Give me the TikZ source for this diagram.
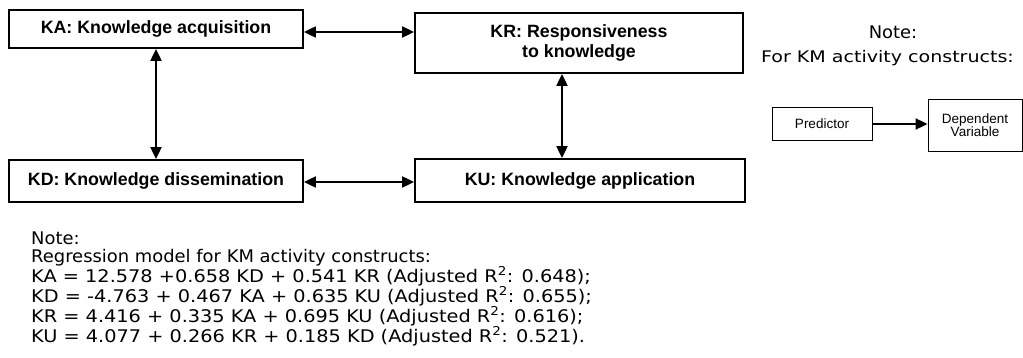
\documentclass[tikz,border=0pt]{standalone}
\usepackage{fontspec}
\setmainfont{Liberation Sans}
\newfontfamily\verd[FakeStretch=1.03]{DejaVu Sans}
\newfontfamily\verdw[FakeStretch=1.11]{DejaVu Sans}
\newfontfamily\verdn[FakeStretch=1.19]{DejaVu Sans}
\usetikzlibrary{arrows.meta}
\begin{document}
\begin{tikzpicture}[x=1pt,y=-1pt,
  bigbox/.style={draw,line width=1.8pt,inner sep=0pt,align=center,font=\fontsize{17.8}{20}\selectfont\bfseries},
  smallbox/.style={draw,line width=0.9pt,inner sep=0pt,align=center,font=\fontsize{13.5}{13}\selectfont},
  biarrow/.style={line width=2pt,{Triangle[length=12pt,width=11pt]}-{Triangle[length=12pt,width=11pt]}},
  onearrow/.style={line width=2pt,-{Triangle[length=12pt,width=11pt]}},
  notetext/.style={font=\verd\fontsize{17.4}{17.4}\selectfont,inner sep=0pt}]
\useasboundingbox (0,0) rectangle (1023,358);
\node[bigbox,minimum width=294pt,minimum height=38pt] (KA) at (156,29) {KA: Knowledge acquisition};
\node[bigbox,minimum width=328pt,minimum height=60pt] (KR) at (579,43) {KR: Responsiveness\\to knowledge};
\node[bigbox,minimum width=294pt,minimum height=42pt] (KD) at (156,181) {KD: Knowledge dissemination};
\node[bigbox,minimum width=330pt,minimum height=43pt] (KU) at (580,180.5) {KU: Knowledge application};
\draw[biarrow] (KA.east|-0,32) -- (KR.west|-0,32);
\draw[biarrow] (KA.south) -- (KD.north);
\draw[biarrow] (KR.south-|562,0) -- (KU.north-|562,0);
\draw[biarrow] (KD.east|-0,182) -- (KU.west|-0,182);
% legend
\node[notetext] (n1) at (893,32) {Note:};
\node[notetext,font=\verdn\fontsize{16}{17}\selectfont] (n2) at (887.5,58) {For KM activity constructs:};
\node[smallbox,minimum width=100pt,minimum height=33pt] (P) at (822,123.5) {Predictor};
\node[smallbox,minimum width=94pt,minimum height=52pt] (D) at (975,125) {Dependent\\Variable};
\draw[onearrow] (P.east|-0,124) -- (D.west|-0,124);
% bottom note
\node[notetext,anchor=north west,align=left] (eq) at (31,232) {Note:\\
Regression model for KM activity constructs:\\
\verdw KA = 12.578 +0.658 KD + 0.541 KR (Adjusted R\textsuperscript{2}: 0.648);\\
\verdw KD = -4.763 + 0.467 KA + 0.635 KU (Adjusted R\textsuperscript{2}: 0.655);\\
\verdw KR = 4.416 + 0.335 KA + 0.695 KU (Adjusted R\textsuperscript{2}: 0.616);\\
\verdw KU = 4.077 + 0.266 KR + 0.185 KD (Adjusted R\textsuperscript{2}: 0.521).};
\end{tikzpicture}
\end{document}
